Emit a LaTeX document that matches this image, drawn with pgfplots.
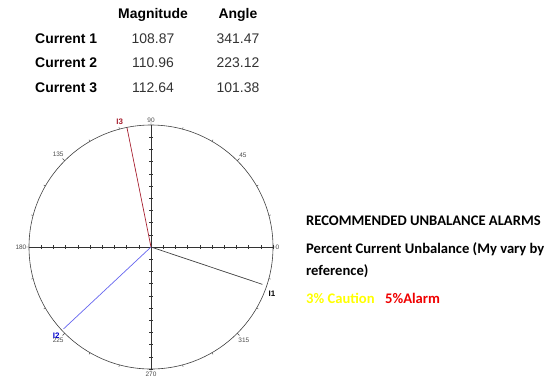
\documentclass[border=0pt]{standalone}
\usepackage{pgfplots}
\pgfplotsset{compat=1.18}
\usepgfplotslibrary{polar}
\usepackage{fontspec}
\setmainfont{Liberation Sans}
\newfontfamily\calibri{Carlito}
\definecolor{ithree}{HTML}{A82030}
\definecolor{itwo}{HTML}{6666F0}
\definecolor{ione}{HTML}{404040}
\begin{document}
\begin{tikzpicture}[x=1bp,y=1bp]
\useasboundingbox[fill=white] (0,0) rectangle (555,-390);
% table
\begin{scope}[every node/.style={inner sep=0pt,font=\fontsize{14}{16}\selectfont}]
\node[font=\fontsize{14}{16}\selectfont\bfseries] at (153,-15) {Magnitude};
\node[font=\fontsize{14}{16}\selectfont\bfseries] at (238,-15) {Angle};
\node[font=\fontsize{14}{16}\selectfont\bfseries,anchor=west] at (35,-39) {Current 1};
\node[font=\fontsize{14}{16}\selectfont\bfseries,anchor=west] at (35,-63) {Current 2};
\node[font=\fontsize{14}{16}\selectfont\bfseries,anchor=west] at (35,-88) {Current 3};
\node[text=black!80] at (153,-39) {108.87};
\node[text=black!80] at (153,-63) {110.96};
\node[text=black!80] at (153,-88) {112.64};
\node[text=black!80] at (238,-39) {341.47};
\node[text=black!80] at (238,-63) {223.12};
\node[text=black!80] at (238,-88) {101.38};
\end{scope}
% right text
\begin{scope}[every node/.style={inner sep=0pt,anchor=west,font=\calibri\bfseries\fontsize{14.67}{17}\selectfont}]
\node at (306,-221) {RECOMMENDED UNBALANCE ALARMS};
\node at (306,-249) {Percent Current Unbalance (My vary by};
\node at (306,-271) {reference)};
\node[text={rgb,255:red,255;green,255;blue,0}] at (306,-298) {3\% Caution};
\node[text={rgb,255:red,240;green,0;blue,0}] at (385,-298) {5\%Alarm};
\end{scope}
\begin{polaraxis}[
  at={(151bp,-247bp)}, anchor=center,
  width=244bp, height=244bp, scale only axis,
  ymin=0, ymax=113,
  ytick=\empty,
  grid=none,
  xtick={0,45,...,315},
  minor xtick={15,30,60,75,105,120,150,165,195,210,240,255,285,300,330,345},
  major tick length=3bp, minor tick length=2bp,
  axis line style={black!75, line width=0.6pt},
  every tick/.style={black!75},
  /pgf/number format/assume math mode=true,
  xticklabel style={font=\fontsize{6.5}{7}\selectfont, text=black!70, inner sep=2.5pt},
  clip=false,
]
% cross lines
\addplot[black!80, line width=0.6pt] coordinates {(0,113) (180,113)};
\addplot[black!80, line width=0.6pt] coordinates {(90,113) (270,113)};
\addplot[only marks, mark=|, mark size=1.6bp, black!80] coordinates {
 (0,11.3) (0,22.6) (0,33.9) (0,45.2) (0,56.5) (0,67.8) (0,79.1) (0,90.4) (0,101.7) (0,113)
 (180,11.3) (180,22.6) (180,33.9) (180,45.2) (180,56.5) (180,67.8) (180,79.1) (180,90.4) (180,101.7)};
\addplot[only marks, mark=-, mark size=1.6bp, black!80] coordinates {
 (90,11.3) (90,22.6) (90,33.9) (90,45.2) (90,56.5) (90,67.8) (90,79.1) (90,90.4) (90,101.7)
 (270,11.3) (270,22.6) (270,33.9) (270,45.2) (270,56.5) (270,67.8) (270,79.1) (270,90.4) (270,101.7) (270,113)};
% vectors
\addplot[ione, line width=0.7pt] coordinates {(0,0) (341.47,108.87)};
\addplot[itwo, line width=0.7pt] coordinates {(0,0) (223.12,110.96)};
\addplot[ithree, line width=0.7pt] coordinates {(0,0) (101.38,112.64)};
\node[font=\fontsize{8}{9}\selectfont\bfseries, text=black] at (axis cs:339,120) {I1};
\node[font=\fontsize{8}{9}\selectfont\bfseries, text=blue!80!black] at (axis cs:223,120) {I2};
\node[font=\fontsize{8}{9}\selectfont\bfseries, text=ithree] at (axis cs:104,120) {I3};
\end{polaraxis}
\end{tikzpicture}
\end{document}
